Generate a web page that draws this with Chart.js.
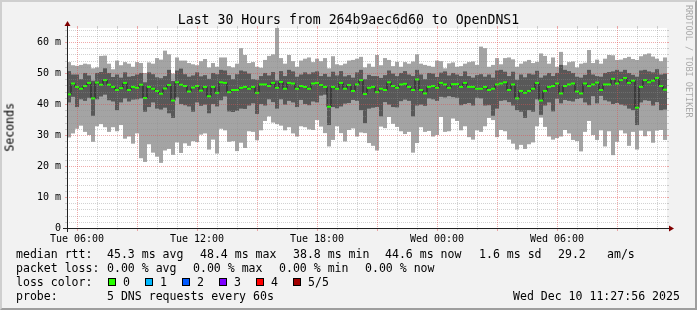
<!DOCTYPE html>
<html>
<head>
<meta charset="utf-8">
<script src="https://cdn.jsdelivr.net/npm/chart.js@4.4.1/dist/chart.umd.min.js"></script>
<style>
  body { margin: 0; background: #fff; }
  #graph { position: relative; width: 697px; height: 310px; background: #f2f2f2; overflow: hidden;
           font-family: 'DejaVu Sans Mono', monospace; color: #000; }
  #graph canvas { position: absolute; left: 0; top: 0; }
  .txt { position: absolute; white-space: pre; line-height: 1; }
  .leg { font-size: 11.55px; }
  .box { position: absolute; width: 6px; height: 6px; border: 1px solid #000; }
  #title { left: 0; width: 697px; text-align: center; top: 12.8px; font-size: 13.2px; }
  #ylabel { left: 5px; top: 103px; font-size: 11.55px; writing-mode: vertical-rl; transform: rotate(180deg); }
  #mark { left: 684px; top: 5px; font-size: 8.5px; color: #aaa; writing-mode: vertical-rl; }
  #frame { position: absolute; left: 0; top: 0; width: 697px; height: 310px; box-sizing: border-box;
           border: 2px solid; border-color: #cfcfcf #9e9e9e #9e9e9e #cfcfcf; pointer-events: none; }
</style>
</head>
<body>
<div id="graph">
  <canvas id="chart" width="697" height="310"></canvas>
  <div class="txt" id="title">Last 30 Hours from 264b9aec6d60 to OpenDNS1</div>
  <div class="txt" id="ylabel">Seconds</div>
  <div class="txt" id="mark">RRDTOOL / TOBI OETIKER</div>

  <div class="txt leg" style="left:16px;top:248.7px">median rtt:</div>
  <div class="txt leg" style="left:107px;top:248.7px">45.3 ms avg</div>
  <div class="txt leg" style="left:200px;top:248.7px">48.4 ms max</div>
  <div class="txt leg" style="left:293px;top:248.7px">38.8 ms min</div>
  <div class="txt leg" style="left:385px;top:248.7px">44.6 ms now</div>
  <div class="txt leg" style="left:479px;top:248.7px">1.6 ms sd</div>
  <div class="txt leg" style="left:558px;top:248.7px">29.2</div>
  <div class="txt leg" style="left:607px;top:248.7px">am/s</div>

  <div class="txt leg" style="left:16px;top:262.7px">packet loss:</div>
  <div class="txt leg" style="left:107px;top:262.7px">0.00 % avg</div>
  <div class="txt leg" style="left:193px;top:262.7px">0.00 % max</div>
  <div class="txt leg" style="left:279px;top:262.7px">0.00 % min</div>
  <div class="txt leg" style="left:365px;top:262.7px">0.00 % now</div>

  <div class="txt leg" style="left:16px;top:276.7px">loss color:</div>
  <div id="lossLegend"></div>

  <div class="txt leg" style="left:16px;top:290.7px">probe:</div>
  <div class="txt leg" style="left:107px;top:290.7px">5 DNS requests every 60s</div>
  <div class="txt leg" style="left:513px;top:290.7px">Wed Dec 10 11:27:56 2025</div>
  <div id="frame"></div>
</div>
<script>
// 150 colunas de 12 min (30 h), a partir de Ter 05:30
const HOURS = 30;
const STEP_HOURS = 0.2;
const Y_MAX = 64.5;
const MEDIAN_HALF = 0.32; // meia altura da marca verde (~1px)

// ping 1..5 ordenados: min, 2o, mediana, 4o, max (ms)
const pingMin = [
  29.2, 30.5, 32.0, 33.0, 31.0, 30.0, 27.8, 32.8, 33.5, 32.5, 31.0, 32.5, 31.2, 33.2, 28.8, 29.5, 27.2, 30.5, 22.5, 21.3,
  27.0, 24.3, 23.0, 21.0, 25.0, 25.5, 23.6, 27.6, 24.2, 27.3, 26.5, 28.0, 27.7, 30.1, 30.5, 25.3,
  28.5, 24.0, 32.0, 31.5, 27.8, 28.0, 24.8, 27.5, 25.8, 31.2, 31.0, 28.3, 31.5, 34.5, 36.0, 34.0, 33.5, 33.0, 31.5, 32.5,
  30.5, 29.5, 32.8, 32.5, 31.8,
  31.6, 34.8, 32.7, 30.6, 26.3, 28.4, 32.8, 30.6, 27.9, 31.6, 32.1, 29.5, 30.8, 30.6, 27.4, 26.5, 25.0, 32.7, 32.2, 35.8,
  33.6, 32.6, 31.2, 30.3, 31.0,
  24.3, 27.4, 32.5, 31.0, 31.3, 29.5, 30.0, 35.8, 31.0, 31.2, 35.3, 34.5, 31.5, 32.8, 29.3, 28.5, 31.5, 31.0, 32.8, 35.5,
  34.8, 29.3, 31.6, 31.2, 28.5, 27.2, 25.3, 26.8, 25.5, 27.0, 27.6, 32.8, 35.6, 32.6,
  29.5, 28.5, 29.0, 29.5, 31.6, 30.5, 28.4, 28.0, 24.7, 31.0, 34.5, 30.0, 28.4, 31.5, 26.3, 31.2, 23.5, 27.8, 31.5, 30.5,
  26.5, 31.0, 25.3, 31.4, 29.6, 31.2, 27.5, 31.4, 31.6, 28.4
];
const pingLow = [
  40.5, 42.3, 39.0, 41.5, 41.0, 42.0, 36.2, 41.5, 42.4, 43.0, 41.2, 40.8, 38.0, 40.5, 41.8, 40.8, 41.4, 41.5, 41.8, 37.5,
  39.0, 40.5, 38.5, 38.2, 38.8, 37.0, 35.5, 42.1, 40.0, 39.6, 39.2, 37.5, 40.5, 39.4, 39.8, 37.0,
  40.0, 39.2, 41.2, 42.4, 37.6, 37.4, 37.8, 38.5, 38.4, 39.5, 40.2, 36.8, 40.0, 39.5, 41.5, 40.6, 38.5, 41.5, 39.8, 41.0,
  40.5, 39.0, 41.3, 40.0, 39.6,
  40.8, 40.5, 42.7, 43.0, 33.2, 39.0, 38.6, 39.2, 40.1, 40.3, 41.3, 41.0, 38.0, 33.8, 38.5, 38.8, 39.0, 36.0, 40.6, 39.8,
  39.0, 38.9, 40.9, 41.4, 41.0,
  36.0, 39.5, 39.8, 39.4, 41.8, 41.5, 41.0, 42.3, 42.1, 42.5, 42.2, 42.0, 39.6, 40.0, 40.3, 39.5, 42.0, 41.8, 39.5, 39.6,
  36.2, 38.5, 41.0, 41.2, 40.6, 39.5, 38.0, 37.5, 35.5, 38.0, 37.5, 41.5, 36.5, 39.5,
  40.5, 37.6, 41.7, 40.2, 41.3, 41.0, 40.8, 41.6, 41.9, 40.5, 39.6, 42.5, 40.2, 42.6, 41.2, 40.8, 40.0, 40.3, 39.8, 39.5,
  38.5, 38.0, 33.2, 40.5, 41.2, 41.0, 39.5, 40.6, 38.0, 38.2
];
const median = [
  43.1, 46.6, 45.5, 44.9, 45.8, 46.8, 41.8, 46.9, 46.2, 47.7, 46.2, 45.5, 44.5, 45.1, 46.8, 44.5, 45.5, 45.2, 46.2, 41.9,
  45.5, 44.9, 44.2, 43.3, 45.0, 46.1, 41.1, 47.0, 46.2, 45.8, 44.0, 45.3, 45.8, 44.3, 45.5, 42.5,
  45.5, 43.6, 47.0, 46.8, 43.8, 44.5, 44.5, 45.2, 45.5, 44.9, 45.5, 43.6, 46.3, 46.3, 45.8, 46.8, 45.2, 47.1, 44.9, 46.8,
  46.6, 44.9, 45.8, 45.5, 44.9,
  46.6, 46.8, 46.1, 45.5, 39.1, 45.5, 44.9, 46.8, 44.9, 46.1, 44.2, 46.3, 47.7, 43.2, 45.2, 45.5, 43.8, 44.9, 44.5, 47.0,
  45.8, 45.2, 46.3, 46.5, 45.5,
  44.5, 47.9, 44.5, 43.4, 45.5, 45.8, 45.2, 46.8, 46.3, 45.2, 46.4, 46.4, 45.5, 46.8, 45.5, 45.5, 44.9, 44.9, 45.5, 44.5,
  44.9, 46.3, 46.6, 47.0, 44.5, 46.3, 41.8, 44.2, 43.6, 44.2, 44.9, 46.8, 41.1, 44.2,
  45.5, 45.8, 46.6, 43.4, 45.8, 46.3, 46.6, 44.0, 43.4, 46.6, 45.8, 46.3, 46.9, 44.5, 46.3, 46.3, 48.1, 46.6, 47.7, 48.4,
  46.8, 47.5, 38.8, 45.5, 47.7, 47.0, 47.5, 48.4, 45.8, 44.6
];
const pingHigh = [
  50.6, 49.5, 49.5, 48.0, 50.0, 49.2, 47.5, 50.0, 50.3, 51.5, 50.0, 48.7, 49.5, 48.5, 50.2, 48.8, 49.0, 49.5, 50.0, 47.0,
  50.2, 49.6, 48.6, 48.3, 49.0, 51.0, 47.4, 50.8, 51.4, 49.6, 48.8, 49.2, 50.2, 48.9, 49.3, 48.1,
  50.0, 49.6, 51.0, 50.8, 49.3, 48.0, 49.6, 50.8, 50.5, 49.8, 48.0, 47.8, 49.0, 50.0, 49.2, 50.3, 47.6, 50.6, 49.0, 51.0,
  50.5, 48.8, 49.5, 50.2, 49.6,
  50.2, 50.5, 49.0, 49.7, 48.8, 50.4, 49.2, 50.6, 48.9, 49.3, 48.5, 50.2, 51.0, 48.0, 49.4, 49.0, 49.0, 48.4, 49.3, 50.8,
  49.8, 49.0, 50.0, 50.6, 49.5,
  49.0, 51.0, 49.5, 48.0, 50.0, 49.8, 48.7, 50.1, 50.5, 49.2, 50.0, 49.5, 49.0, 50.5, 49.0, 48.5, 49.3, 49.6, 48.8, 49.5,
  48.5, 50.8, 51.0, 50.4, 49.0, 50.4, 47.8, 49.5, 48.6, 49.8, 49.5, 50.7, 48.5, 49.2,
  50.0, 49.0, 50.0, 52.6, 51.0, 50.6, 50.0, 48.8, 48.5, 49.4, 51.0, 49.5, 49.0, 48.8, 50.0, 50.3, 50.5, 51.0, 50.4, 51.0,
  50.0, 49.4, 48.8, 50.8, 51.0, 50.5, 50.2, 51.2, 49.5, 49.8
];
const pingMax = [
  53.5, 52.5, 52.3, 52.6, 53.0, 52.8, 51.5, 51.8, 55.5, 55.6, 53.0, 51.2, 54.0, 52.5, 53.5, 53.0, 52.0, 53.5, 53.2, 50.0,
  53.4, 53.0, 54.8, 54.3, 57.2, 56.0, 49.8, 55.0, 54.0, 54.0, 53.2, 52.8, 52.5, 53.8, 54.5, 51.8,
  53.2, 52.0, 55.0, 55.0, 52.2, 51.8, 53.0, 58.0, 55.8, 53.2, 53.5, 52.0, 51.7, 54.2, 55.5, 56.0, 64.5, 54.8, 53.0, 55.8,
  53.8, 52.0, 54.0, 54.6, 55.0,
  53.5, 54.6, 53.8, 54.8, 51.5, 55.4, 52.8, 52.5, 53.0, 54.0, 54.2, 54.6, 55.2, 51.8, 53.0, 52.0, 55.8, 52.5, 54.8, 54.2,
  52.2, 53.6, 52.0, 53.5, 53.0,
  53.7, 56.0, 53.0, 52.6, 52.3, 52.0, 54.0, 53.8, 51.5, 53.1, 53.4, 52.0, 52.2, 53.0, 53.5, 53.7, 52.6, 58.5, 58.0, 52.0,
  52.6, 54.8, 52.8, 54.8, 55.0, 54.4, 52.0, 53.0, 53.7, 54.2, 53.2, 53.6, 56.3, 55.5,
  53.0, 55.0, 52.0, 56.8, 52.5, 53.5, 53.7, 51.8, 53.0, 53.3, 57.4, 53.2, 54.3, 53.0, 54.6, 55.8, 55.7, 54.2, 54.3, 54.8,
  55.2, 54.5, 54.2, 55.4, 56.0, 56.3, 55.3, 54.6, 53.8, 55.0
];

// eixos (horas desde Ter 05:30)
const yTickValues = [0, 10, 20, 30, 40, 50, 60];
const yTickLabels = ['0', '10 m', '20 m', '30 m', '40 m', '50 m', '60 m'];
const xTickValues = [0.5, 6.5, 12.5, 18.5, 24.5];
const xTickLabels = ['Tue 06:00', 'Tue 12:00', 'Tue 18:00', 'Wed 00:00', 'Wed 06:00'];

const lossNames = ['0', '1', '2', '3', '4', '5/5'];
const lossColors = ['#26ff00', '#00b8ff', '#0059ff', '#7e00ff', '#ff0000', '#a10000'];

// legenda de perda
const lossBox = document.getElementById('lossLegend');
lossNames.forEach((name, i) => {
    const box = document.createElement('div');
    box.className = 'box';
    box.style.left = (108 + i * 37) + 'px';
    box.style.top = '278px';
    box.style.background = lossColors[i];
    lossBox.appendChild(box);
    const lbl = document.createElement('div');
    lbl.className = 'txt leg';
    lbl.style.left = (123 + i * 37) + 'px';
    lbl.style.top = '276.7px';
    lbl.textContent = name;
    lossBox.appendChild(lbl);
});

const xs = median.map((_, i) => (i + 0.5) * STEP_HOURS);
const band = (lo, hi) => xs.map((x, i) => ({ x: x, y: [lo[i], hi[i]] }));

// fundo branco da area do grafico
const plotBg = {
    id: 'plotBg',
    beforeDraw(chart) {
        const a = chart.chartArea;
        chart.ctx.save();
        chart.ctx.fillStyle = '#ffffff';
        chart.ctx.fillRect(a.left, a.top, a.right - a.left, a.bottom - a.top);
        chart.ctx.restore();
    }
};

// grade do rrdtool por cima dos dados
const rrdGrid = {
    id: 'rrdGrid',
    afterDatasetsDraw(chart) {
        const ctx = chart.ctx;
        const a = chart.chartArea;
        const xS = chart.scales.x, yS = chart.scales.y;
        const snap = p => Math.round(p) + 0.5;
        const minor = 'rgba(143,143,143,0.4)';
        const major = 'rgba(222,79,79,0.48)';
        ctx.save();
        ctx.lineWidth = 1;

        function line(x1, y1, x2, y2, color, dash) {
            ctx.strokeStyle = color;
            ctx.setLineDash(dash ? [1, 1] : []);
            ctx.beginPath();
            ctx.moveTo(x1, y1);
            ctx.lineTo(x2, y2);
            ctx.stroke();
        }

        // horizontais
        for (let v = 2; v <= Y_MAX; v += 2) {
            const isMajor = v % 10 === 0;
            const c = isMajor ? major : minor;
            const py = snap(yS.getPixelForValue(v));
            line(a.left - 2, py, a.left, py, c, false);
            line(a.right, py, a.right + 2, py, c, false);
            line(a.left, py, a.right, py, c, true);
        }
        // verticais (1h menor, 3h maior)
        for (let h = 0.5; h < HOURS; h += 1) {
            const isMajor = (h - 0.5) % 3 === 0;
            const c = isMajor ? major : minor;
            const px = snap(xS.getPixelForValue(h));
            line(px, a.top - 2, px, a.top, c, false);
            line(px, a.bottom, px, a.bottom + (isMajor ? 3 : 2), c, false);
            line(px, a.top, px, a.bottom, c, true);
        }

        // eixos
        const ox = snap(a.left), oy = snap(a.bottom);
        line(a.left - 4, oy, a.right + 4, oy, '#212121', false);
        line(ox, a.bottom + 4, ox, a.top - 4, '#212121', false);
        ctx.setLineDash([]);
        ctx.fillStyle = '#800000';
        ctx.beginPath();
        ctx.moveTo(a.right + 2, a.bottom - 3 + 0.5);
        ctx.lineTo(a.right + 2, a.bottom + 3 + 0.5);
        ctx.lineTo(a.right + 7, a.bottom + 0.5);
        ctx.closePath();
        ctx.fill();
        ctx.beginPath();
        ctx.moveTo(a.left - 3 + 0.5, a.top - 2);
        ctx.lineTo(a.left + 3 + 0.5, a.top - 2);
        ctx.lineTo(a.left + 0.5, a.top - 7);
        ctx.closePath();
        ctx.fill();
        ctx.restore();
    }
};

const tickFont = { family: 'DejaVu Sans Mono', size: 10 };

new Chart(document.getElementById('chart').getContext('2d'), {
    type: 'bar',
    data: {
        datasets: [
            { label: 'smoke', data: band(pingMin, pingMax), backgroundColor: '#a4a4a4', order: 4 },
            { label: 'smoke inner', data: band(pingLow, pingHigh), backgroundColor: '#585858', order: 3 },
            {
                type: 'line', label: 'median',
                data: xs.map((x, i) => ({ x: x, y: median[i] })),
                borderColor: '#202020', borderWidth: 1, pointRadius: 0,
                stepped: 'middle', order: 2
            },
            {
                label: 'loss 0',
                data: xs.map((x, i) => ({ x: x, y: [median[i] - MEDIAN_HALF, median[i] + MEDIAN_HALF] })),
                backgroundColor: lossColors[0], order: 1
            }
        ]
    },
    options: {
        responsive: false,
        animation: false,
        events: [],
        datasets: {
            bar: { grouped: false, barPercentage: 1, categoryPercentage: 1, borderWidth: 0, inflateAmount: 0 }
        },
        layout: { padding: { left: 0, top: 28, right: 30, bottom: 0 } },
        plugins: {
            legend: { display: false },
            tooltip: { enabled: false },
            title: { display: false }
        },
        scales: {
            x: {
                type: 'linear', min: 0, max: HOURS, offset: false,
                grid: { display: false, drawTicks: false },
                border: { display: false },
                afterBuildTicks: s => { s.ticks = xTickValues.map(v => ({ value: v })); },
                afterFit: s => { s.height = 82; },
                ticks: {
                    autoSkip: false, maxRotation: 0, padding: 5, color: '#000', font: tickFont,
                    callback: (v, i) => xTickLabels[i]
                }
            },
            y: {
                min: 0, max: Y_MAX,
                grid: { display: false, drawTicks: false },
                border: { display: false },
                afterBuildTicks: s => { s.ticks = yTickValues.map(v => ({ value: v })); },
                afterFit: s => { s.width = 67; },
                ticks: {
                    padding: 6, color: '#000', font: tickFont,
                    callback: v => yTickLabels[yTickValues.indexOf(v)]
                }
            }
        }
    },
    plugins: [plotBg, rrdGrid]
});
</script>
</body>
</html>
